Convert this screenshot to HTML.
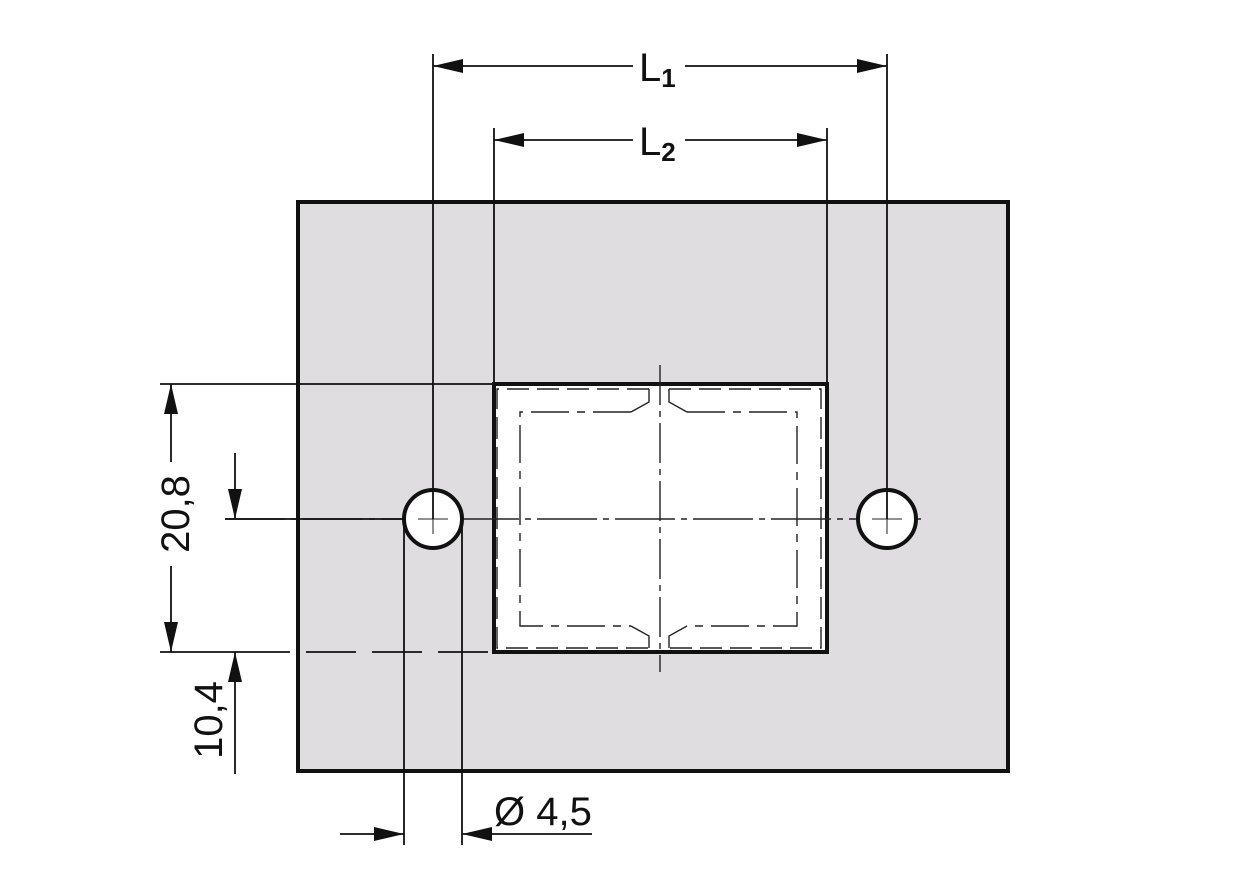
<!DOCTYPE html>
<html><head><meta charset="utf-8"><style>body{margin:0;background:#fff}svg{display:block}</style></head><body>
<svg width="1256" height="894" viewBox="0 0 1256 894" xmlns="http://www.w3.org/2000/svg" font-family="Liberation Sans, sans-serif">
<defs>
<marker id="a" viewBox="0 0 30 14" refX="30" refY="7" markerWidth="30" markerHeight="14" markerUnits="userSpaceOnUse" orient="auto"><path d="M0,0 L30,7 L0,14 z" fill="#111"/></marker>
</defs>
<rect x="298" y="202" width="710" height="569" fill="#dfdddf" stroke="#111" stroke-width="4"/>
<rect x="494" y="384" width="333" height="268" fill="#fff" stroke="#111" stroke-width="4"/>
<g stroke="#222" stroke-width="1.4" fill="none">
<path d="M649,389 H497 V648 H649 M669,389 H821 V648 H669" stroke-dasharray="22,8"/>
<path d="M631,412 H520 V626 H631 M687,412 H797 V626 H687" stroke-dasharray="38,8,8,8"/>
<path d="M649,389 V402 L631,412 M669,389 V402 L687,412 M649,648 V636 L631,626 M669,648 V636 L687,626"/>
<path d="M660,365 V672" stroke-dasharray="40,6,6,6"/>
<path d="M225,519 H925" stroke-dasharray="60,6,6,6"/>
</g>
<circle cx="433" cy="519" r="29" fill="#fff" stroke="#111" stroke-width="4"/>
<circle cx="887" cy="519" r="29" fill="#fff" stroke="#111" stroke-width="4"/>
<g stroke="#222" stroke-width="1" fill="none">
<path d="M433,504 V534 M418,519 H448 M887,504 V534 M872,519 H902"/>
</g>
<g stroke="#111" stroke-width="1.8" fill="none">
<path d="M433,54 V519 M887,54 V519 M494,128 V384 M827,128 V384"/>
<path d="M160,384 H494 M160,652 H290"/>
<path d="M306,652 H494" stroke-dasharray="50,16"/>
<path d="M225,519 H404"/>
<path d="M404,519 V845 M462,519 V845"/>
<path d="M633,66 H433" marker-end="url(#a)"/>
<path d="M685,66 H887" marker-end="url(#a)"/>
<path d="M633,140 H494" marker-end="url(#a)"/>
<path d="M685,140 H827" marker-end="url(#a)"/>
<path d="M171,462 V384" marker-end="url(#a)"/>
<path d="M171,566 V652" marker-end="url(#a)"/>
<path d="M235,453 V519" marker-end="url(#a)"/>
<path d="M235,774 V652" marker-end="url(#a)"/>
<path d="M340,834 H404" marker-end="url(#a)"/>
<path d="M592,834 H462" marker-end="url(#a)"/>
</g>
<g fill="#111" font-size="40">
<text x="639" y="81">L<tspan font-size="26" dy="6" font-weight="bold">1</tspan></text>
<text x="639" y="155">L<tspan font-size="26" dy="6" font-weight="bold">2</tspan></text>
<text x="494" y="825">Ø 4,5</text>
<text transform="translate(189,514) rotate(-90)" text-anchor="middle">20,8</text>
<text transform="translate(222,720) rotate(-90)" text-anchor="middle">10,4</text>
</g>
</svg>
</body></html>
